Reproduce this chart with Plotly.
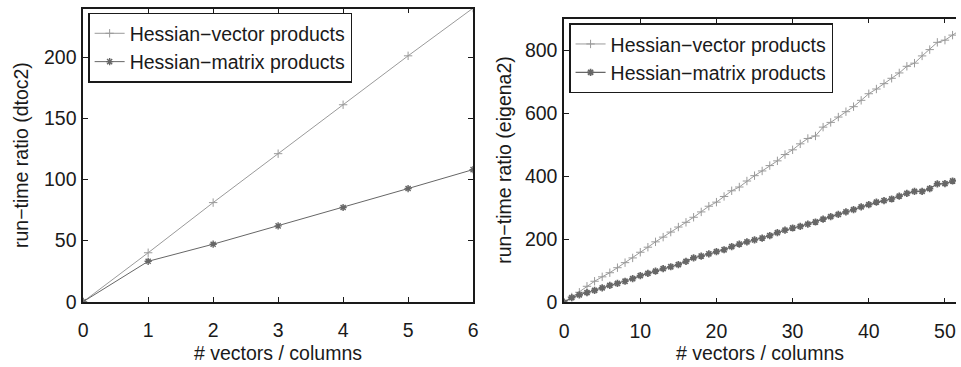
import plotly.graph_objects as go

# Left panel (dtoc2)
x_left = [0, 1, 2, 3, 4, 5, 6]
vec_left = [0, 40, 81, 121, 161, 201, 240]
mat_left = [0, 33, 47, 62, 77, 92.5, 108]

# Right panel (eigena2)
x_right = list(range(0, 53))
vec_right = [0, 17, 32, 51, 67, 81, 94, 110, 126, 141, 159, 175, 192, 207, 223, 239,
             254, 270, 287, 305, 318, 336, 354, 366, 385, 402, 417, 434, 449, 469,
             484, 503, 520, 528, 556, 571, 588, 605, 621, 641, 662, 677, 694, 711,
             728, 749, 759, 782, 802, 825, 832, 848, 864]
mat_right = [0, 15, 24, 31, 38, 46, 54, 60, 67, 75, 85, 92, 99, 107, 113, 120, 130,
             141, 147, 154, 161, 167, 177, 185, 192, 198, 204, 212, 221, 229, 236,
             241, 248, 255, 264, 272, 279, 287, 294, 303, 310, 318, 323, 328, 337,
             346, 352, 352, 361, 376, 377, 385, 392]

names = ["Hessian\u2212vector products", "Hessian\u2212matrix products"]
c_vec = "#9a9a9a"
c_mat = "#666666"
FONT = "Liberation Sans, Arial, Helvetica, sans-serif"
FS = 19.5
TXT = "#1a1a1a"

fig = go.Figure()
fig.add_trace(go.Scatter(x=x_left, y=vec_left, name=names[0], mode="lines+markers",
                         line=dict(color=c_vec, width=1),
                         marker=dict(symbol="cross-thin-open", size=6, color=c_vec,
                                     line=dict(color=c_vec, width=1)),
                         xaxis="x", yaxis="y", legend="legend"))
fig.add_trace(go.Scatter(x=x_left, y=mat_left, name=names[1], mode="lines+markers",
                         line=dict(color=c_mat, width=1),
                         marker=dict(symbol="asterisk-open", size=6, color=c_mat,
                                     line=dict(color=c_mat, width=1.4)),
                         xaxis="x", yaxis="y", legend="legend"))
fig.add_trace(go.Scatter(x=x_right, y=vec_right, name=names[0], mode="lines+markers",
                         line=dict(color=c_vec, width=1),
                         marker=dict(symbol="cross-thin-open", size=6, color=c_vec,
                                     line=dict(color=c_vec, width=1)),
                         xaxis="x2", yaxis="y2", legend="legend2"))
fig.add_trace(go.Scatter(x=x_right, y=mat_right, name=names[1], mode="lines+markers",
                         line=dict(color=c_mat, width=1.2),
                         marker=dict(symbol="asterisk-open", size=6, color=c_mat,
                                     line=dict(color=c_mat, width=1.7)),
                         xaxis="x2", yaxis="y2", legend="legend2"))

W, H = 961, 367
def px_x(p): return p / W
def px_y(p): return (H - p) / H

ax_common = dict(showgrid=False, zeroline=False, showline=True, linecolor=TXT,
                 linewidth=1.5, ticks="inside", ticklen=5, tickcolor=TXT,
                 tickfont=dict(family=FONT, size=FS, color=TXT))

fig.update_layout(
    width=W, height=H, margin=dict(l=0, r=0, t=0, b=0),
    paper_bgcolor="white", plot_bgcolor="white",
    font=dict(family=FONT, color=TXT),
    xaxis=dict(domain=[px_x(79), px_x(473)], range=[0, 6], tickvals=[0, 1, 2, 3, 4, 5, 6],
               mirror="ticks", anchor="y", ticklabelstandoff=10, **ax_common),
    yaxis=dict(domain=[px_y(311), px_y(9)], range=[0, 239.5], tickvals=[0, 50, 100, 150, 200],
               mirror="ticks", anchor="x", ticklabelstandoff=1, **ax_common),
    xaxis2=dict(domain=[px_x(565), 1.0], range=[0, 51.45], tickvals=[0, 10, 20, 30, 40, 50],
                mirror="ticks", anchor="y2", ticklabelstandoff=10, **ax_common),
    yaxis2=dict(domain=[px_y(311.7), px_y(19.3)], range=[0, 900], tickvals=[0, 200, 400, 600, 800],
                mirror=False, anchor="x2", ticklabelstandoff=1, **ax_common),
    legend=dict(x=px_x(84), y=px_y(13), xanchor="left", yanchor="top",
                bgcolor="white", bordercolor=TXT, borderwidth=1.5,
                font=dict(family=FONT, size=FS, color=TXT),
                tracegroupgap=0, itemwidth=30),
    legend2=dict(x=px_x(570), y=px_y(24), xanchor="left", yanchor="top",
                 bgcolor="white", bordercolor=TXT, borderwidth=1.5,
                 font=dict(family=FONT, size=FS, color=TXT),
                 tracegroupgap=0, itemwidth=30),
    annotations=[
        dict(text="# vectors / columns", x=px_x(276), y=px_y(364), xref="paper", yref="paper",
             xanchor="center", yanchor="middle", showarrow=False,
             font=dict(family=FONT, size=FS, color=TXT)),
        dict(text="# vectors / columns", x=px_x(763), y=px_y(364), xref="paper", yref="paper",
             xanchor="center", yanchor="middle", showarrow=False,
             font=dict(family=FONT, size=FS, color=TXT)),
        dict(text="run\u2212time ratio (dtoc2)", x=px_x(16), y=px_y(160), xref="paper", yref="paper",
             xanchor="center", yanchor="middle", showarrow=False, textangle=-90,
             font=dict(family=FONT, size=FS, color=TXT)),
        dict(text="run\u2212time ratio (eigena2)", x=px_x(504), y=px_y(165), xref="paper", yref="paper",
             xanchor="center", yanchor="middle", showarrow=False, textangle=-90,
             font=dict(family=FONT, size=FS, color=TXT)),
    ],
)

fig.write_html("out.html")
